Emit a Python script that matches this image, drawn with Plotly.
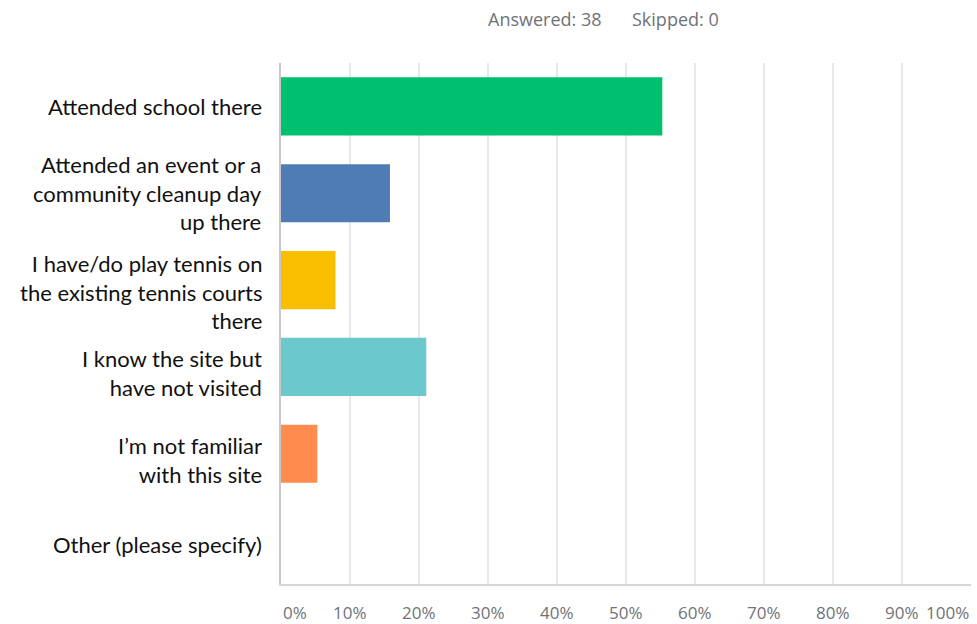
import plotly.graph_objects as go

# Survey responses (38 answered, 0 skipped)
categories = [
    "Attended school there",
    "Attended an event or a<br>community cleanup day<br>up there",
    "I have/do play tennis on<br>the existing tennis courts<br>there",
    "I know the site but<br>have not visited",
    "I’m not familiar<br>with this site",
    "Other (please specify)",
]
counts = [21, 6, 3, 8, 2, 0]
answered = 38
skipped = 0
percents = [c / answered * 100 for c in counts]
bar_colors = ["#00BF6F", "#507CB6", "#F9BE00", "#6BC8CD", "#FF8B4F", "#D25F90"]

tick_vals = [0, 10, 20, 30, 40, 50, 60, 70, 80, 90, 100]
tick_text = ["0%", "10%", "20%", "30%", "40%", "50%", "60%", "70%", "80%", "90%", "100%"]

# vertical nudge (px, downward) of each category label relative to its bar
label_nudge = [0, 0, 12, 6, 6, 4]

GRAY_FONT = "Open Sans, Helvetica, Arial, sans-serif"
GRAY = "#6F7377"
LABEL_FONT = dict(family="Lato, Carlito, Calibri, sans-serif", size=22, color="#111111")

fig = go.Figure(
    go.Bar(
        x=percents,
        y=categories,
        orientation="h",
        marker=dict(color=bar_colors, line=dict(width=0)),
        width=0.67,
        hovertemplate="%{x:.2f}%<extra></extra>",
    )
)

fig.update_layout(
    width=977,
    height=624,
    margin=dict(l=281, r=6, t=63, b=40),
    paper_bgcolor="white",
    plot_bgcolor="white",
    showlegend=False,
)

fig.update_xaxes(
    range=[0, 100],
    tickvals=tick_vals,
    showticklabels=False,
    showgrid=True,
    gridcolor="#E8E8E8",
    gridwidth=2,
    zeroline=False,
    showline=True,
    linecolor="#D6D6D6",
    linewidth=2,
    fixedrange=True,
)

fig.update_yaxes(
    categoryorder="array",
    categoryarray=categories,
    autorange="reversed",
    showgrid=False,
    zeroline=False,
    showline=True,
    linecolor="#C8C8C8",
    linewidth=2,
    ticks="",
    showticklabels=False,
    fixedrange=True,
)

# Category labels, right-aligned to the left of the axis
for cat, nudge in zip(categories, label_nudge):
    fig.add_annotation(
        x=0,
        xref="paper",
        y=cat,
        yref="y",
        xanchor="right",
        yanchor="middle",
        xshift=-17,
        yshift=-nudge,
        align="right",
        text=cat,
        showarrow=False,
        font=LABEL_FONT,
    )

# Percentage labels under the axis; the end labels are kept inside the plot width
for v, t in zip(tick_vals, tick_text):
    anchor = "left" if v == tick_vals[0] else ("right" if v == tick_vals[-1] else "center")
    fig.add_annotation(
        x=v,
        xref="x",
        y=0,
        yref="paper",
        yshift=-28,
        text=t,
        showarrow=False,
        xanchor=anchor,
        yanchor="middle",
        font=dict(family=GRAY_FONT, size=17, color=GRAY),
    )

# Response summary header
plot_w = 971 - 281
for x_px, txt in [(486, f"Answered: {answered}"), (630, f"Skipped: {skipped}")]:
    fig.add_annotation(
        x=(x_px - 281) / plot_w,
        xref="paper",
        y=1,
        yref="paper",
        yshift=44,
        xanchor="left",
        yanchor="middle",
        text=txt,
        showarrow=False,
        font=dict(family=GRAY_FONT, size=18, color=GRAY),
    )

fig.write_html("out.html")
